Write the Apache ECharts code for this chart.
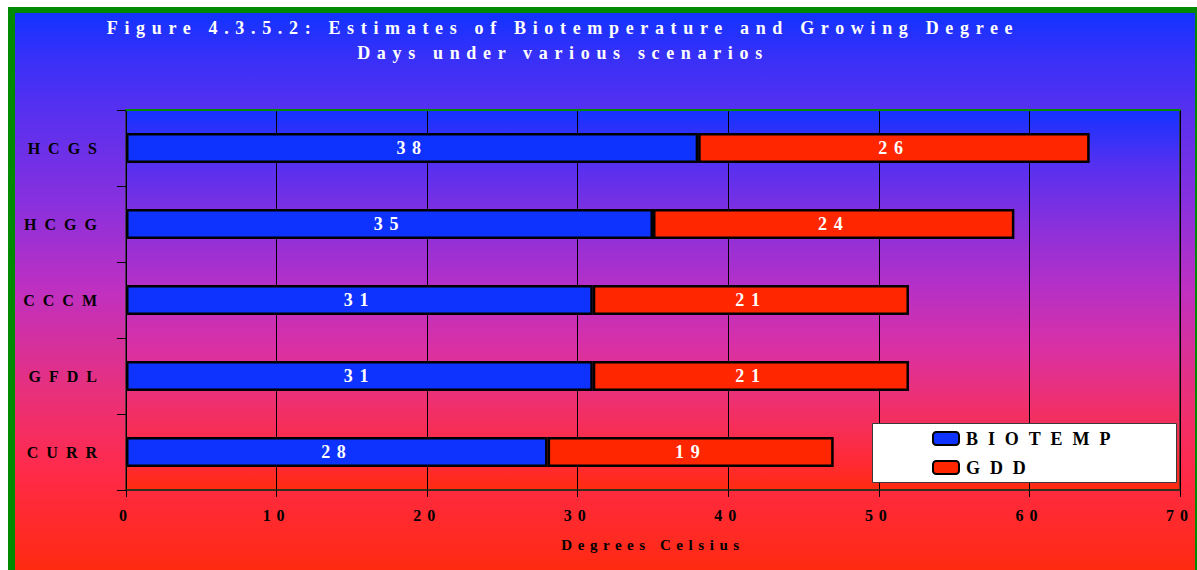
<!DOCTYPE html>
<html>
<head>
<meta charset="utf-8">
<title>Biotemperature and Growing Degree Days</title>
<script src="https://cdn.jsdelivr.net/npm/echarts@6/dist/echarts.min.js"></script>
<style>
  html, body { margin: 0; padding: 0; background: #ffffff; }
  #chart { width: 1197px; height: 570px; }
</style>
</head>
<body>
<div id="chart"></div>
<script>
// Scenario names, top to bottom
const categories = ['HCGS', 'HCGG', 'CCCM', 'GFDL', 'CURR'];
// Biotemperature (°C) per scenario
const biotemp = [38, 35, 31, 31, 28];
// Growing degree days (°C) per scenario, stacked after biotemperature
const gdd = [26, 24, 21, 21, 19];
// Series names shown in the legend
const seriesNames = ['BIOTEMP', 'GDD'];
// Horizontal axis range and step
const xMin = 0, xMax = 70, xStep = 10;

const SERIF = "'Liberation Serif', 'Times New Roman', serif";

const chartDom = document.getElementById('chart');
const chart = echarts.init(chartDom, null, { renderer: 'svg' });

// The spaced-out lettering of the figure: wider tracking on the scenario names and legend
const tracking = new Map();
categories.forEach(c => tracking.set(c, '0.5em'));
seriesNames.forEach(n => tracking.set(n, '0.55em'));
function applyTracking() {
  chartDom.querySelectorAll('text').forEach(t => {
    const s = t.textContent.trim();
    t.style.letterSpacing = tracking.get(s) || '0.37em';
  });
}
chart.on('finished', applyTracking);

const pageGradient = {
  type: 'linear', x: 0, y: 0, x2: 0, y2: 1,
  colorStops: [
    { offset: 0.00, color: '#1233ff' },
    { offset: 0.08, color: '#3830f8' },
    { offset: 0.17, color: '#5530f0' },
    { offset: 0.34, color: '#8830de' },
    { offset: 0.50, color: '#c030c0' },
    { offset: 0.69, color: '#ea3078' },
    { offset: 0.82, color: '#ff2a4a' },
    { offset: 1.00, color: '#ff2a10' }
  ]
};
const plotGradient = {
  type: 'linear', x: 0, y: 0, x2: 0, y2: 1,
  colorStops: [
    { offset: 0.00, color: '#1432ff' },
    { offset: 0.15, color: '#5830f0' },
    { offset: 0.30, color: '#8830dc' },
    { offset: 0.46, color: '#b430c8' },
    { offset: 0.62, color: '#d830a6' },
    { offset: 0.78, color: '#f0306c' },
    { offset: 0.93, color: '#ff2a34' },
    { offset: 1.00, color: '#ff2c10' }
  ]
};

const barBorder = { borderColor: '#000000', borderWidth: 2.5 };
const barLabel = {
  show: true, position: 'inside', color: '#ffffff',
  fontFamily: SERIF, fontWeight: 'bold', fontSize: 18
};

chart.setOption({
  animation: false,
  backgroundColor: '#ffffff',
  graphic: [
    { type: 'rect', z: -20, silent: true,
      shape: { x: 8, y: 7, width: 1200, height: 600 },
      style: { fill: '#008a00' } },
    { type: 'rect', z: -19, silent: true,
      shape: { x: 15, y: 13, width: 1180, height: 557 },
      style: { fill: pageGradient } },
    { type: 'rect', z: 3, silent: true,
      shape: { x: 872.5, y: 423.5, width: 304, height: 59 },
      style: { fill: '#ffffff', stroke: '#3a3a3a', lineWidth: 1 } }
  ],
  title: {
    text: 'Figure 4.3.5.2: Estimates of Biotemperature and Growing Degree\nDays under various scenarios',
    left: 563, top: 15.5, padding: 0, textAlign: 'center',
    textStyle: {
      color: '#ffffff', fontFamily: SERIF, fontWeight: 'bold',
      fontSize: 18, lineHeight: 25
    }
  },
  legend: {
    data: seriesNames,
    orient: 'vertical',
    left: 932, top: 429, padding: 0,
    itemGap: 10, itemWidth: 26, itemHeight: 13,
    icon: 'roundRect',
    z: 5,
    textStyle: {
      color: '#000000', fontFamily: SERIF, fontWeight: 'bold',
      fontSize: 18, lineHeight: 19, padding: [0, 0, 0, 2]
    }
  },
  grid: {
    left: 126, right: 17, top: 110, bottom: 80,
    show: true, backgroundColor: plotGradient,
    borderColor: '#2c3a2c', borderWidth: 1.5
  },
  xAxis: [
    {
      type: 'value', min: xMin, max: xMax, interval: xStep,
      name: 'Degrees Celsius', nameLocation: 'middle', nameGap: 47,
      nameTextStyle: { color: '#000000', fontFamily: SERIF, fontWeight: 'bold', fontSize: 15 },
      axisLine: { show: true, lineStyle: { color: '#26301a', width: 1.5 } },
      axisTick: { show: true, length: 7, lineStyle: { color: '#000000', width: 1 } },
      axisLabel: { margin: 17, color: '#000000', fontFamily: SERIF, fontWeight: 'bold', fontSize: 16 },
      splitLine: { show: true, lineStyle: { color: '#000000', width: 1 } }
    },
    {
      type: 'value', min: xMin, max: xMax, interval: xStep, position: 'top',
      axisLine: { show: true, lineStyle: { color: '#008a00', width: 2 } },
      axisTick: { show: false }, axisLabel: { show: false }, splitLine: { show: false }
    }
  ],
  yAxis: {
    type: 'category', data: categories, inverse: true,
    axisLine: { show: true, lineStyle: { color: '#000000', width: 1 } },
    axisTick: { show: true, length: 9, lineStyle: { color: '#000000', width: 1 } },
    axisLabel: { margin: 21, color: '#000000', fontFamily: SERIF, fontWeight: 'bold', fontSize: 16 },
    splitLine: { show: false }
  },
  series: [
    {
      name: seriesNames[0], type: 'bar', stack: 'total', data: biotemp,
      barWidth: 30, itemStyle: Object.assign({ color: '#0f33ff' }, barBorder),
      label: barLabel
    },
    {
      name: seriesNames[1], type: 'bar', stack: 'total', data: gdd,
      barWidth: 30, itemStyle: Object.assign({ color: '#ff2600' }, barBorder),
      label: barLabel
    }
  ]
});
applyTracking();
</script>
</body>
</html>
